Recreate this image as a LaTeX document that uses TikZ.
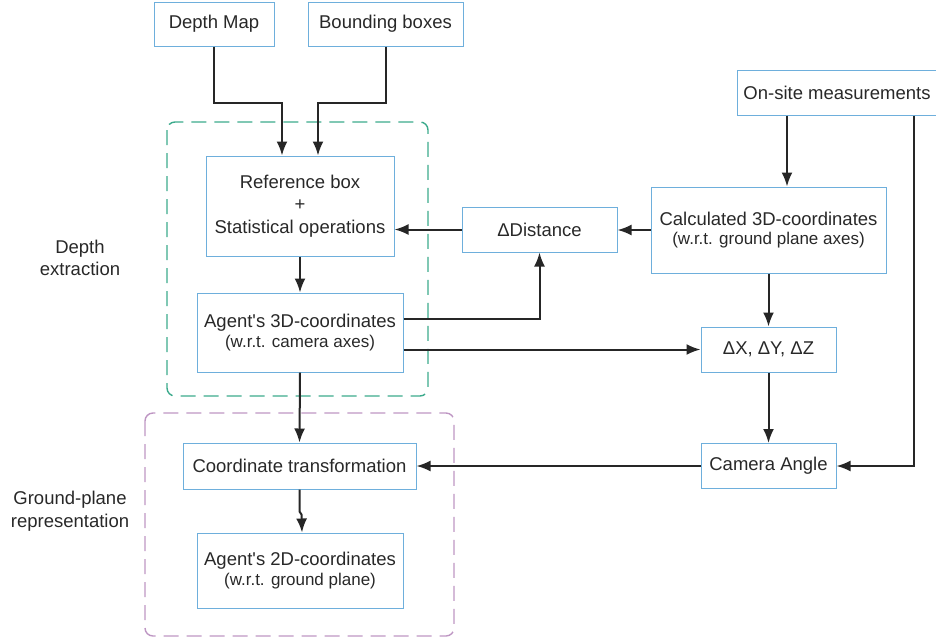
\documentclass[tikz,border=0pt]{standalone}
\usepackage{fontspec}
\setmainfont{Liberation Sans}
\usetikzlibrary{arrows.meta}
\definecolor{boxblue}{RGB}{110,175,220}
\definecolor{grpgreen}{RGB}{60,170,140}
\definecolor{grppurple}{RGB}{190,150,195}
\definecolor{txtgray}{RGB}{40,40,40}
\begin{document}
\begin{tikzpicture}[x=1pt, y=-1pt,
    every node/.style={text=txtgray, font=\fontsize{18.5}{22.5}\selectfont},
    box/.style={draw=boxblue, line width=1pt, align=center, inner sep=0pt},
    arr/.style={draw=black!85, line width=2pt, -{Latex[length=14pt,width=11pt]}},
    grp/.style={line width=1.4pt, rounded corners=8pt, dash pattern=on 15pt off 8pt}]
      \useasboundingbox (0,0) rectangle (936,641);
      \draw[grp, grpgreen] (167,122) rectangle (428,396);
      \draw[grp, grppurple] (145,413) rectangle (454,636);
      \node[box, minimum width=120, minimum height=44] (depth) at (214,24) {Depth Map};
      \node[box, minimum width=155, minimum height=44] (bbox) at (385.5,24) {Bounding boxes};
      \node[box, minimum width=200, minimum height=45] (onsite) at (837,92.5) {On-site measurements};
      \node[box, minimum width=188, minimum height=100] (refbox) at (300,206) {Reference box\\+\\Statistical operations};
      \node[box, minimum width=155, minimum height=45] (ddist) at (539.5,229.5) {ΔDistance};
      \node[box, minimum width=235, minimum height=86] (calc) at (768.5,230) {Calculated 3D-coordinates\\[-3pt]{\fontsize{17}{20}\selectfont(w.r.t. ground plane axes)}};
      \node[box, minimum width=206, minimum height=79] (agent3d) at (300,332.5) {Agent\textquotesingle s 3D-coordinates\\[-3pt]{\fontsize{17}{20}\selectfont(w.r.t. camera axes)}};
      \node[box, minimum width=135, minimum height=45] (dxyz) at (768.5,349.5) {ΔX, ΔY, ΔZ};
      \node[box, minimum width=233, minimum height=46] (coordtr) at (299.5,466) {Coordinate transformation};
      \node[box, minimum width=135, minimum height=45] (camera) at (768.5,466) {Camera Angle};
      \node[box, minimum width=206, minimum height=75] (agent2d) at (300,570.5) {Agent\textquotesingle s 2D-coordinates\\[-3pt]{\fontsize{17}{20}\selectfont(w.r.t. ground plane)}};
      \node[align=center] (lbldepth) at (80,258) {Depth\\extraction};
      \node[align=center] (lblground) at (70,511) {Ground-plane\\representation};
      \draw[arr] (depth.south) -- ++(0,56) -| ([xshift=-18pt]refbox.north);
      \draw[arr] (bbox.south) -- ++(0,56) -| ([xshift=18pt]refbox.north);
      \draw[arr] ([xshift=-50pt]onsite.south) -- ([xshift=18.5pt]calc.north);
      \draw[arr] ([xshift=77pt]onsite.south) |- (camera.east);
      \draw[arr] (calc.west) -- (calc.west -| ddist.east);
      \draw[arr] (ddist.west) -- (ddist.west -| refbox.east);
      \draw[arr] (refbox.south) -- (agent3d.north);
      \draw[arr] ([yshift=13.5pt]agent3d.east) -| (ddist.south);
      \draw[arr] (agent3d.east |- dxyz.west) -- (dxyz.west);
      \draw[arr] (calc.south) -- (dxyz.north);
      \draw[arr] (dxyz.south) -- (camera.north);
      \draw[arr] (camera.west) -- (camera.west -| coordtr.east);
      \draw[arr] (agent3d.south) -- (coordtr.north);
      \draw[arr] (coordtr.south) -- ++(0,22) -- ++(2,3) -- ([xshift=2pt]agent2d.north);
    \end{tikzpicture}
\end{document}
